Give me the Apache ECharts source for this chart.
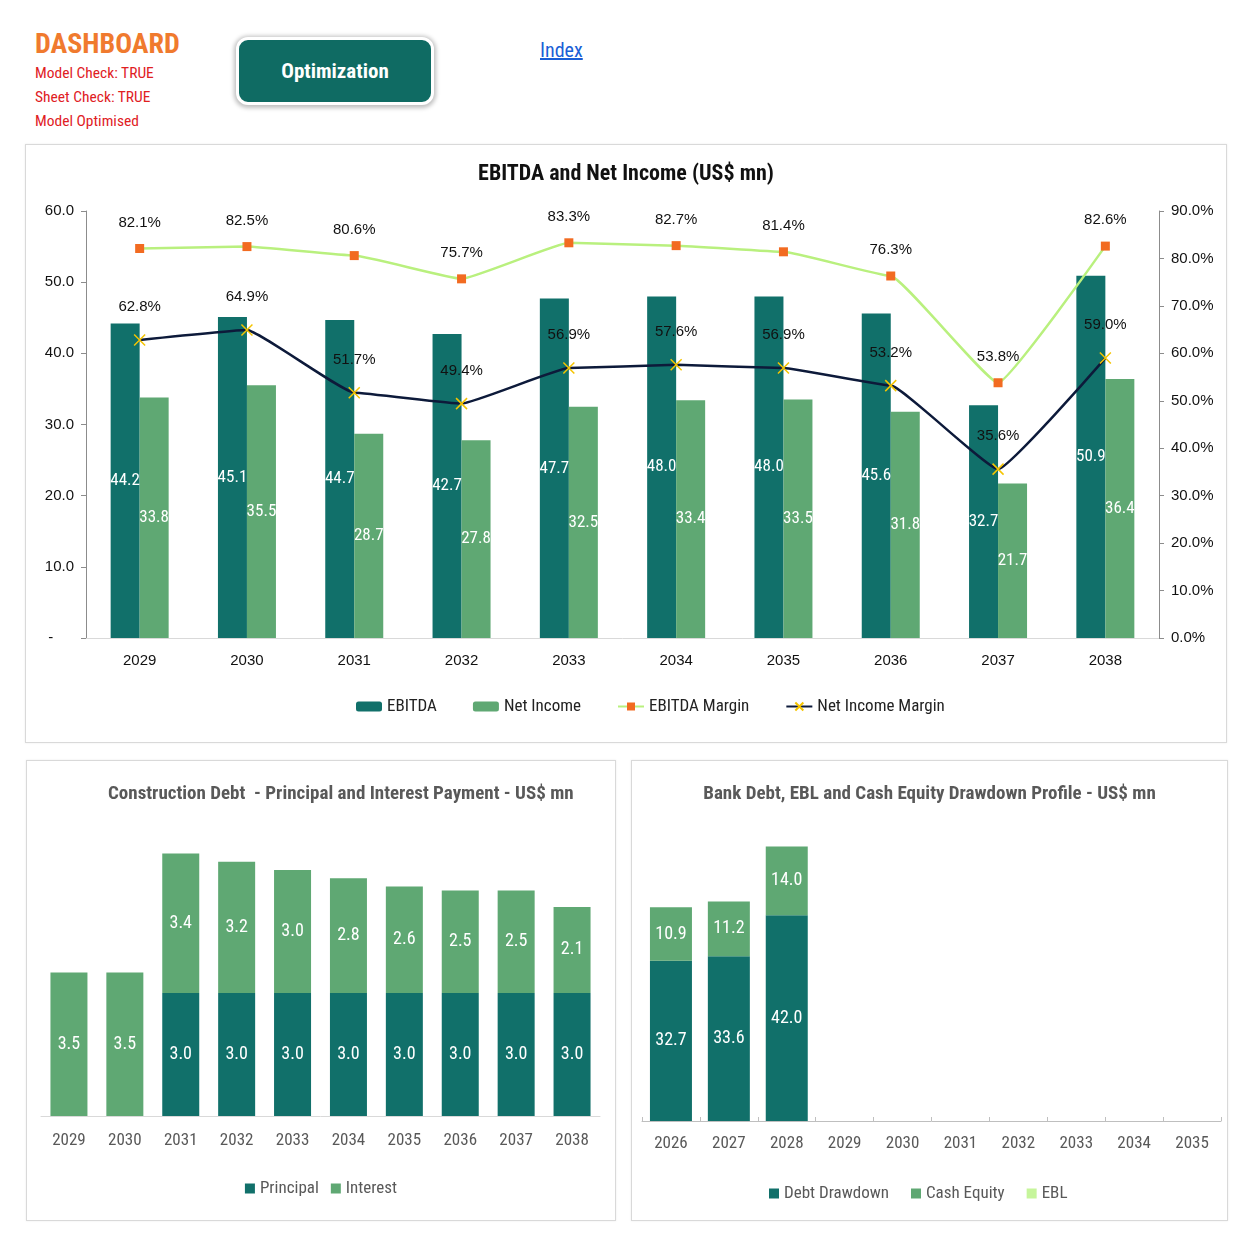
<!DOCTYPE html>
<html>
<head>
<meta charset="utf-8">
<title>Dashboard</title>
<script src="https://cdn.jsdelivr.net/npm/echarts/dist/echarts.min.js"></script>
<style>
html,body{
    margin:0;
    padding:0;
    background:#fff;
}
body{
    width:1254px;
    height:1254px;
    position:relative;
    overflow:hidden;
    font-family:"Roboto Condensed","Liberation Sans",Arial,sans-serif;
}
.title_main{
    position:absolute;
    left:35px;
    top:27px;
    font-size:28px;
    font-weight:bold;
    color:#f07a2e;
}
.check{
    position:absolute;
    left:35px;
    font-size:15.5px;
    color:#e0201f;
}
.btn{
    position:absolute;
    left:236px;
    top:37px;
    width:192px;
    height:62px;
    border:3px solid #fff;
    border-radius:12px;
    background:#0f6b63;
    box-shadow:0 1px 4px 2px rgba(0,0,0,0.25);
    color:#fff;
    font-size:21px;
    font-weight:bold;
    text-align:center;
    line-height:62px;
}
.link{
    position:absolute;
    left:540px;
    top:38px;
    font-size:20px;
    color:#1a5fd6;
    text-decoration:underline;
}
.panel{
    position:absolute;
    border:1px solid #d9d9d9;
    box-shadow:0 0 2px rgba(0,0,0,0.08);
    background:#fff;
}
</style>
</head>
<body>
<div class="title_main">DASHBOARD</div>
<div class="check" style="top:64px;">Model Check: TRUE</div>
<div class="check" style="top:88px;">Sheet Check: TRUE</div>
<div class="check" style="top:112px;">Model Optimised</div>
<div class="btn">Optimization</div>
<div class="link">Index</div>

<div id="chart1" class="panel" style="left:25px;top:144px;width:1200px;height:597px;"></div>
<div id="chart2" class="panel" style="left:26px;top:760px;width:588px;height:459px;"></div>
<div id="chart3" class="panel" style="left:631px;top:760px;width:595px;height:459px;"></div>

<script type="text/javascript">
var years = ['2029', '2030', '2031', '2032', '2033', '2034', '2035', '2036', '2037', '2038'];
var ebitda = [44.2, 45.1, 44.7, 42.7, 47.7, 48.0, 48.0, 45.6, 32.7, 50.9];
var netIncome = [33.8, 35.5, 28.7, 27.8, 32.5, 33.4, 33.5, 31.8, 21.7, 36.4];
var ebitdaMargin = [82.1, 82.5, 80.6, 75.7, 83.3, 82.7, 81.4, 76.3, 53.8, 82.6];
var netIncomeMargin = [62.8, 64.9, 51.7, 49.4, 56.9, 57.6, 56.9, 53.2, 35.6, 59.0];

var debtYears = ['2029', '2030', '2031', '2032', '2033', '2034', '2035', '2036', '2037', '2038'];
var principal = ['-', '-', 3.0, 3.0, 3.0, 3.0, 3.0, 3.0, 3.0, 3.0];
var interest = [3.5, 3.5, 3.4, 3.2, 3.0, 2.8, 2.6, 2.5, 2.5, 2.1];

var drawYears = ['2026', '2027', '2028', '2029', '2030', '2031', '2032', '2033', '2034', '2035'];
var debtDrawdown = [32.7, 33.6, 42.0, '-', '-', '-', '-', '-', '-', '-'];
var cashEquity = [10.9, 11.2, 14.0, '-', '-', '-', '-', '-', '-', '-'];
var ebl = ['-', '-', '-', '-', '-', '-', '-', '-', '-', '-'];

var NARROW = '"Roboto Condensed", "Liberation Sans", sans-serif';
var REG = '"Liberation Sans", Arial, sans-serif';
var C_DARK = '#11706a', C_MID = '#5fa873', C_LIGHT = '#b9f07e';

function fmt1(p){ return (+p.value).toFixed(1); }
function fmtPct(p){ return p.value.toFixed(1) + '%'; }

// EBITDA and Net Income
(function(){
    var myChart = echarts.init(document.getElementById('chart1'));
    var option = {
        animation:false,
        title:{
            text:'EBITDA and Net Income (US$ mn)',
            left:'center', top:13,
            textStyle:{fontFamily:NARROW, fontSize:22, fontWeight:'bold', color:'#111'}
        },
        legend:{
            bottom:22, left:325, itemGap:36, itemWidth:26, itemHeight:10,
            textStyle:{fontFamily:NARROW, fontSize:17, color:'#222'},
            data:['EBITDA', 'Net Income', 'EBITDA Margin', 'Net Income Margin']
        },
        grid:{left:60, right:67, top:66, bottom:104},
        xAxis:{
            type:'category', data:years,
            axisLine:{lineStyle:{color:'#d9d9d9'}},
            axisTick:{show:false},
            axisLabel:{fontFamily:REG, fontSize:15, color:'#111', margin:15}
        },
        yAxis:[
            {
                type:'value', min:0, max:60, interval:10,
                splitLine:{show:false},
                axisLine:{show:true, lineStyle:{color:'#8c8c8c'}},
                axisTick:{show:true, length:5, lineStyle:{color:'#8c8c8c'}},
                axisLabel:{fontFamily:REG, fontSize:15, color:'#111', margin:12,
                    formatter:function(v){ return v === 0 ? '-     ' : v.toFixed(1); }}
            },
            {
                type:'value', min:0, max:90, interval:10,
                splitLine:{show:false},
                axisLine:{show:true, lineStyle:{color:'#8c8c8c'}},
                axisTick:{show:true, length:5, lineStyle:{color:'#8c8c8c'}},
                axisLabel:{fontFamily:REG, fontSize:15, color:'#111', margin:12,
                    formatter:function(v){ return v.toFixed(1) + '%'; }}
            }
        ],
        series:[
            {
                name:'EBITDA', type:'bar', data:ebitda, barWidth:29, barGap:'0%',
                itemStyle:{color:C_DARK},
                label:{show:true, position:'inside', color:'#fff', fontFamily:NARROW, fontSize:17, formatter:fmt1}
            },
            {
                name:'Net Income', type:'bar', data:netIncome, barWidth:29,
                itemStyle:{color:C_MID},
                label:{show:true, position:'inside', color:'#fff', fontFamily:NARROW, fontSize:17, formatter:fmt1}
            },
            {
                name:'EBITDA Margin', type:'line', yAxisIndex:1, data:ebitdaMargin,
                smooth:0.1, smoothMonotone:'x',
                symbol:'rect', symbolSize:9,
                lineStyle:{color:C_LIGHT, width:2.5},
                itemStyle:{color:'#f26b21'},
                label:{show:true, position:'top', distance:14, color:'#111', fontFamily:REG, fontSize:15, formatter:fmtPct}
            },
            {
                name:'Net Income Margin', type:'line', yAxisIndex:1, data:netIncomeMargin,
                smooth:0.1, smoothMonotone:'x',
                symbol:'path://M0,0L10,10M10,0L0,10', symbolSize:11,
                lineStyle:{color:'#0d1a3a', width:2.5},
                itemStyle:{color:'#f5c400', borderColor:'#f5c400', borderWidth:1.5},
                label:{show:true, position:'top', distance:19, color:'#111', fontFamily:REG, fontSize:15, formatter:fmtPct},
                z:3
            }
        ]
    };
    myChart.setOption(option);
})();

// Construction Debt - Principal and Interest
(function(){
    var myChart = echarts.init(document.getElementById('chart2'));
    var option = {
        animation:false,
        title:{
            text:'Construction Debt  - Principal and Interest Payment - US$ mn',
            left:76, top:19,
            textStyle:{fontFamily:NARROW, fontSize:19, fontWeight:'bold', color:'#595959'}
        },
        legend:{
            bottom:18, left:'center', itemGap:12, itemWidth:10, itemHeight:10, icon:'rect',
            textStyle:{fontFamily:NARROW, fontSize:17, color:'#595959'},
            data:['Principal', 'Interest']
        },
        grid:{left:14, right:15, top:68, bottom:104},
        xAxis:{
            type:'category', data:debtYears,
            axisLine:{lineStyle:{color:'#d9d9d9'}},
            axisTick:{show:false},
            axisLabel:{fontFamily:NARROW, fontSize:17, color:'#595959', margin:16}
        },
        yAxis:{type:'value', min:0, max:7, show:false},
        series:[
            {
                name:'Principal', type:'bar', stack:'debt', data:principal, barWidth:37,
                itemStyle:{color:C_DARK},
                label:{show:true, position:'inside', color:'#fff', fontFamily:NARROW, fontSize:18, formatter:fmt1}
            },
            {
                name:'Interest', type:'bar', stack:'debt', data:interest, barWidth:37,
                itemStyle:{color:C_MID},
                label:{show:true, position:'inside', color:'#fff', fontFamily:NARROW, fontSize:18, formatter:fmt1}
            }
        ]
    };
    myChart.setOption(option);
})();

// Bank Debt, EBL and Cash Equity
(function(){
    var myChart = echarts.init(document.getElementById('chart3'));
    var option = {
        animation:false,
        title:{
            text:'Bank Debt, EBL and Cash Equity Drawdown Profile - US$ mn',
            left:'center', top:19,
            textStyle:{fontFamily:NARROW, fontSize:19, fontWeight:'bold', color:'#595959'}
        },
        legend:{
            bottom:13, left:132, itemGap:22, itemWidth:10, itemHeight:10, icon:'rect',
            textStyle:{fontFamily:NARROW, fontSize:17, color:'#595959'},
            data:['Debt Drawdown', 'Cash Equity', 'EBL']
        },
        grid:{left:10, right:6, top:66, bottom:99},
        xAxis:{
            type:'category', data:drawYears,
            axisLine:{lineStyle:{color:'#bfbfbf'}},
            axisTick:{show:true, inside:true, length:4, lineStyle:{color:'#bfbfbf'}},
            axisLabel:{fontFamily:NARROW, fontSize:17, color:'#595959', margin:14}
        },
        yAxis:{type:'value', min:0, max:60, show:false},
        series:[
            {
                name:'Debt Drawdown', type:'bar', stack:'draw', data:debtDrawdown, barWidth:42,
                itemStyle:{color:C_DARK},
                label:{show:true, position:'inside', color:'#fff', fontFamily:NARROW, fontSize:18, formatter:fmt1}
            },
            {
                name:'Cash Equity', type:'bar', stack:'draw', data:cashEquity, barWidth:42,
                itemStyle:{color:C_MID},
                label:{show:true, position:'inside', color:'#fff', fontFamily:NARROW, fontSize:18, formatter:fmt1}
            },
            {
                name:'EBL', type:'bar', stack:'draw', data:ebl, barWidth:42,
                itemStyle:{color:'#c6f59b'}
            }
        ]
    };
    myChart.setOption(option);
})();
</script>
</body>
</html>
